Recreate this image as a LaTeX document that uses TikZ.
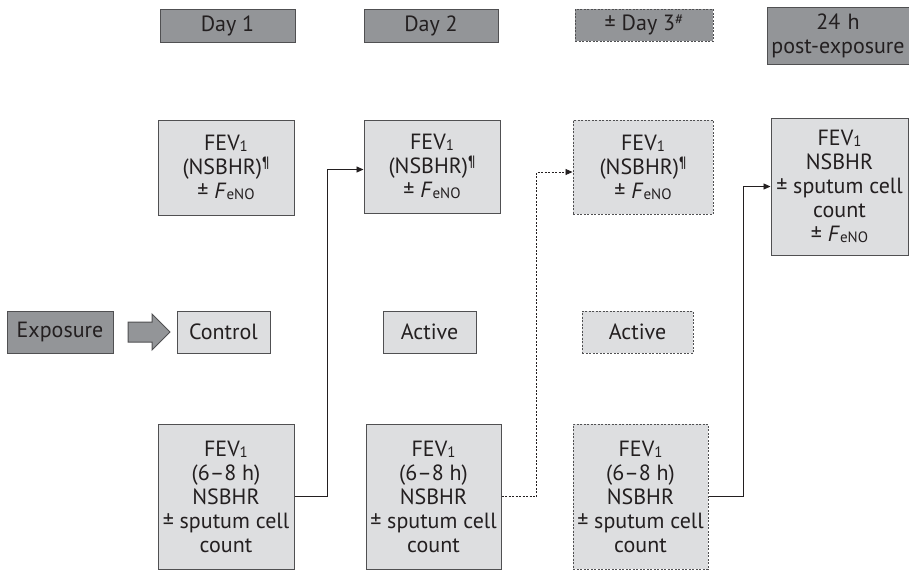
\documentclass[tikz,border=0pt]{standalone}
\usepackage{fontspec}
\setmainfont{PT Sans}
\definecolor{hdrgray}{RGB}{147, 149, 152}
\definecolor{boxgray}{RGB}{221, 222, 224}
\definecolor{edgegray}{RGB}{80, 80, 82}
\definecolor{inkgray}{RGB}{35, 31, 32}
\usetikzlibrary{shapes.arrows, arrows.meta, positioning, calc}
\newcommand{\lowtxt}[1]{\raisebox{-0.1ex}{\fontsize{15}{15}\selectfont #1}}
\newcommand{\uptxt}[1]{\raisebox{0.6ex}{\fontsize{15}{15}\selectfont #1}}
\newcommand{\fev}{FEV\lowtxt{1}}
\newcommand{\feno}{\textit{F}\lowtxt{eNO}}

\begin{document}
\begin{tikzpicture}[
  x=1pt, y=-1pt,
  every node/.style={text=inkgray, font=\fontsize{22}{24}\selectfont, align=center, inner sep=0pt},
  hdr/.style={draw=edgegray, fill=hdrgray, line width=1pt},
  mbox/.style={draw=edgegray, fill=boxgray, line width=1pt},
  dotbox/.style={draw=edgegray, fill=boxgray, line width=1pt, dash pattern=on 2pt off 1.5pt},
  link/.style={draw=inkgray, line width=0.9pt, -{Triangle[length=7pt, width=6pt]}},
  dotlink/.style={link, dash pattern=on 2pt off 1.5pt}
]
  \useasboundingbox (0,0) rectangle (909,571);

  \node[hdr, minimum width=135pt, minimum height=33pt] (day1) at (227.5, 25.5) {Day 1};
  \node[hdr, minimum width=134pt, minimum height=33pt] (day2) at (431, 25.5) {Day 2};
  \node[hdr, dash pattern=on 2pt off 1.5pt, minimum width=138pt, minimum height=32pt] (day3) at (644, 25) {± Day 3\uptxt{\#}};
  \node[hdr, minimum width=200pt, minimum height=57pt, text width=200pt] (post) at (867, 35.5) {\hspace*{-58pt}24 h\\\hspace*{-58pt}post-exposure};

  \node[mbox, minimum width=136pt, minimum height=95pt] (pre1) at (226, 167.5) {\fev\\(NSBHR)\uptxt{¶}\\± \feno};
  \node[mbox, minimum width=136pt, minimum height=93pt] (pre2) at (432, 166.5) {\fev\\(NSBHR)\uptxt{¶}\\± \feno};
  \node[dotbox, minimum width=140pt, minimum height=94pt] (pre3) at (643, 167) {\fev\\(NSBHR)\uptxt{¶}\\± \feno};
  \node[mbox, minimum width=137pt, minimum height=137pt] (pre4) at (839.5, 186.5) {\fev\\NSBHR\\± sputum cell\\count\\± \feno};

  \node[hdr, minimum width=106pt, minimum height=42pt] (expo) at (60, 332) {Exposure};
  \node[single arrow, draw=edgegray, fill=hdrgray, line width=1pt, minimum height=42pt, minimum width=35pt,
        single arrow head extend=8pt, inner sep=9.5pt] (step) at (144, 332) {};
  \node[mbox, minimum width=93pt, minimum height=42pt] (ctrl) at (223.5, 332) {Control};
  \node[mbox, minimum width=93pt, minimum height=42pt] (act2) at (429.5, 332) {Active};
  \node[dotbox, minimum width=111pt, minimum height=42pt] (act3) at (637.5, 332) {Active};

  \node[mbox, minimum width=136pt, minimum height=145pt] (post1) at (226, 496.5) {\fev\\(6–8 h)\\NSBHR\\± sputum cell\\count};
  \node[mbox, minimum width=135pt, minimum height=145pt] (post2) at (433.5, 496.5) {\fev\\(6–8 h)\\NSBHR\\± sputum cell\\count};
  \node[dotbox, minimum width=135pt, minimum height=145pt] (post3) at (640.5, 496.5) {\fev\\(6–8 h)\\NSBHR\\± sputum cell\\count};

  \draw[link] (post1.east) -- ++(33,0) |- ($(pre2.west)+(0,3)$);
  \draw[dotlink] (post2.east) -- ++(35,0) |- ($(pre3.west)+(0,5)$);
  \draw[link] (post3.east) -- ++(35,0) |- (pre4.west);
\end{tikzpicture}
\end{document}
